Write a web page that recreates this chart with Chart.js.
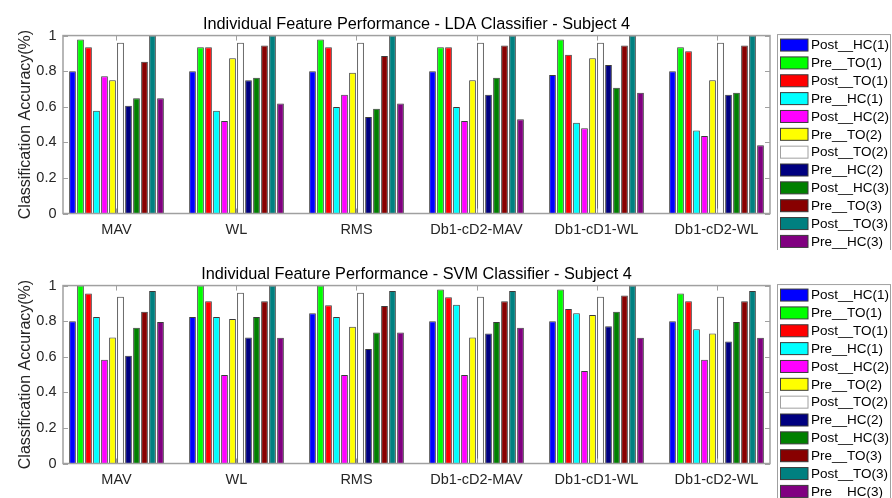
<!DOCTYPE html>
<html>
<head>
<meta charset="utf-8">
<title>Individual Feature Performance - Subject 4</title>
<script src="https://cdn.jsdelivr.net/npm/chart.js@4.4.0/dist/chart.umd.min.js"></script>
<style>
  html, body { margin: 0; padding: 0; background: #fff; overflow: hidden; }
  .panel { position: absolute; left: 0; width: 892px; height: 250px; }
</style>
</head>
<body>
<div class="panel" style="top:0"><canvas id="lda" width="892" height="250"></canvas></div>
<div class="panel" style="top:250px"><canvas id="svm" width="892" height="250"></canvas></div>
<script>
// feature groups on the x axis
const features = ['MAV', 'WL', 'RMS', 'Db1-cD2-MAV', 'Db1-cD1-WL', 'Db1-cD2-WL'];
const yTicks = [0, 0.2, 0.4, 0.6, 0.8, 1];

// legend entries (bar order inside each group) and their colours
const classNames = ['Post__HC(1)', 'Pre__TO(1)', 'Post__TO(1)', 'Pre__HC(1)', 'Post__HC(2)', 'Pre__TO(2)',
                    'Post__TO(2)', 'Pre__HC(2)', 'Post__HC(3)', 'Pre__TO(3)', 'Post__TO(3)', 'Pre__HC(3)'];
const classColors = ['#0000ff', '#00ff00', '#ff0000', '#00ffff', '#ff00ff', '#ffff00',
                     '#ffffff', '#000080', '#008000', '#880000', '#008080', '#800080'];

// LDA accuracies, one row per feature, in the order of classNames
const ldaMAV      = [0.800, 0.978, 0.935, 0.577, 0.771, 0.749, 0.959, 0.605, 0.648, 0.853, 1.000, 0.648];
const ldaWL       = [0.800, 0.935, 0.935, 0.577, 0.520, 0.873, 0.959, 0.749, 0.763, 0.944, 1.000, 0.618];
const ldaRMS      = [0.800, 0.978, 0.935, 0.598, 0.667, 0.791, 0.959, 0.542, 0.588, 0.885, 1.000, 0.618];
const ldaCD2MAV   = [0.800, 0.935, 0.935, 0.598, 0.520, 0.749, 0.959, 0.667, 0.763, 0.944, 1.000, 0.529];
const ldaCD1WL    = [0.778, 0.978, 0.892, 0.510, 0.479, 0.873, 0.959, 0.834, 0.706, 0.944, 1.000, 0.678];
const ldaCD2WL    = [0.800, 0.935, 0.912, 0.467, 0.436, 0.749, 0.959, 0.667, 0.678, 0.944, 1.000, 0.384];

// SVM accuracies
const svmMAV      = [0.800, 1.000, 0.955, 0.823, 0.583, 0.708, 0.937, 0.605, 0.763, 0.853, 0.970, 0.795];
const svmWL       = [0.823, 1.000, 0.912, 0.823, 0.497, 0.812, 0.959, 0.708, 0.823, 0.912, 1.000, 0.706];
const svmRMS      = [0.845, 1.000, 0.890, 0.823, 0.497, 0.769, 0.959, 0.644, 0.736, 0.885, 0.970, 0.736];
const svmCD2MAV   = [0.800, 0.978, 0.935, 0.892, 0.497, 0.708, 0.937, 0.730, 0.795, 0.912, 0.970, 0.763];
const svmCD1WL    = [0.800, 0.978, 0.868, 0.845, 0.520, 0.834, 0.937, 0.771, 0.853, 0.944, 1.000, 0.706];
const svmCD2WL    = [0.800, 0.955, 0.912, 0.754, 0.583, 0.730, 0.937, 0.685, 0.795, 0.912, 0.970, 0.706];

const FONT = '"Liberation Sans", Arial, Helvetica, sans-serif';
const frameColor = '#a0a0a0';
const textColor = '#262626';

// turn feature rows into one dataset per class
function buildDatasets(rows) {
    return classNames.map((name, c) => ({
        label: name,
        data: rows.map((row, f) => ({ x: f + 1, y: row[c] })),
        backgroundColor: classColors[c],
        borderColor: '#3a3a3a',
        borderWidth: 1,
        categoryPercentage: 0.8,
        barPercentage: 0.84
    }));
}

// MATLAB-like box with inward ticks, plus a boxed legend on the right
const matlabBox = {
    id: 'matlabBox',
    afterDatasetsDraw(chart) {
        const { ctx, chartArea: a, scales: { x, y } } = chart;
        ctx.save();
        ctx.strokeStyle = frameColor;
        ctx.lineWidth = 1;
        ctx.beginPath();
        x.ticks.forEach(t => {
            const px = Math.round(x.getPixelForValue(t.value)) + 0.5;
            ctx.moveTo(px, a.bottom); ctx.lineTo(px, a.bottom - 5);
            ctx.moveTo(px, a.top); ctx.lineTo(px, a.top + 5);
        });
        y.ticks.forEach(t => {
            const py = Math.round(y.getPixelForValue(t.value)) + 0.5;
            ctx.moveTo(a.left, py); ctx.lineTo(a.left + 5, py);
            ctx.moveTo(a.right, py); ctx.lineTo(a.right - 5, py);
        });
        ctx.stroke();
        ctx.lineWidth = 1.5;
        ctx.strokeRect(a.left, a.top, a.right - a.left, a.bottom - a.top);
        ctx.restore();
    },
    afterDraw(chart) {
        const { ctx, chartArea: a } = chart;
        const left = a.right + 7, top = a.top - 1.5;
        const rowH = 17.85;
        const sets = chart.data.datasets;
        ctx.save();
        ctx.fillStyle = '#fff';
        ctx.fillRect(left, top, 113, 217);
        ctx.strokeStyle = frameColor;
        ctx.lineWidth = 1;
        ctx.strokeRect(left + 0.5, top + 0.5, 113, 217);
        ctx.font = '13.5px ' + FONT;
        ctx.textBaseline = 'middle';
        ctx.textAlign = 'left';
        sets.forEach((ds, i) => {
            const cy = top + 11 + i * rowH;
            ctx.fillStyle = ds.backgroundColor;
            ctx.fillRect(left + 3.5, cy - 6, 27.5, 12);
            ctx.strokeStyle = ds.label === 'Post__TO(2)' ? '#a0a0a0' : '#3a3a3a';
            ctx.strokeRect(left + 3.5, cy - 6, 27.5, 12);
            ctx.fillStyle = '#000';
            ctx.fillText(ds.label, left + 34, cy + 0.5);
        });
        ctx.restore();
    }
};

function makeChart(id, title, rows) {
    return new Chart(document.getElementById(id), {
        type: 'bar',
        data: { datasets: buildDatasets(rows) },
        plugins: [matlabBox],
        options: {
            responsive: false,
            animation: false,
            devicePixelRatio: 1,
            layout: { padding: { left: 0, right: 122, top: 0, bottom: 0 } },
            plugins: {
                legend: { display: false },
                tooltip: { enabled: false },
                title: {
                    display: true,
                    text: title,
                    fullSize: false,
                    color: '#000',
                    font: { family: FONT, size: 16.3, weight: 'normal' },
                    padding: { top: 14.5, bottom: 1.5 }
                }
            },
            scales: {
                x: {
                    type: 'linear',
                    min: 0.5542,
                    max: 6.4458,
                    offset: false,
                    grid: { display: false, drawTicks: false },
                    border: { display: false },
                    afterBuildTicks: s => { s.ticks = features.map((f, i) => ({ value: i + 1 })); },
                    afterFit: s => { s.height = 36.5; },
                    ticks: {
                        padding: 8,
                        color: textColor,
                        font: { family: FONT, size: 14.5 },
                        callback: v => features[Math.round(v) - 1]
                    }
                },
                y: {
                    min: 0,
                    max: 1,
                    grid: { display: false, drawTicks: false },
                    border: { display: false },
                    afterBuildTicks: s => { s.ticks = yTicks.map(v => ({ value: v })); },
                    afterFit: s => { s.width = 63; },
                    ticks: {
                        padding: 6.5,
                        color: textColor,
                        font: { family: FONT, size: 14.5 },
                        callback: v => String(+v.toFixed(1))
                    },
                    title: {
                        display: true,
                        text: 'Classification Accuracy(%)',
                        color: textColor,
                        font: { family: FONT, size: 16 },
                        padding: { top: 16, bottom: 0 }
                    }
                }
            }
        }
    });
}

makeChart('lda', 'Individual Feature Performance - LDA Classifier - Subject 4',
    [ldaMAV, ldaWL, ldaRMS, ldaCD2MAV, ldaCD1WL, ldaCD2WL]);
makeChart('svm', 'Individual Feature Performance - SVM Classifier - Subject 4',
    [svmMAV, svmWL, svmRMS, svmCD2MAV, svmCD1WL, svmCD2WL]);
</script>
</body>
</html>
